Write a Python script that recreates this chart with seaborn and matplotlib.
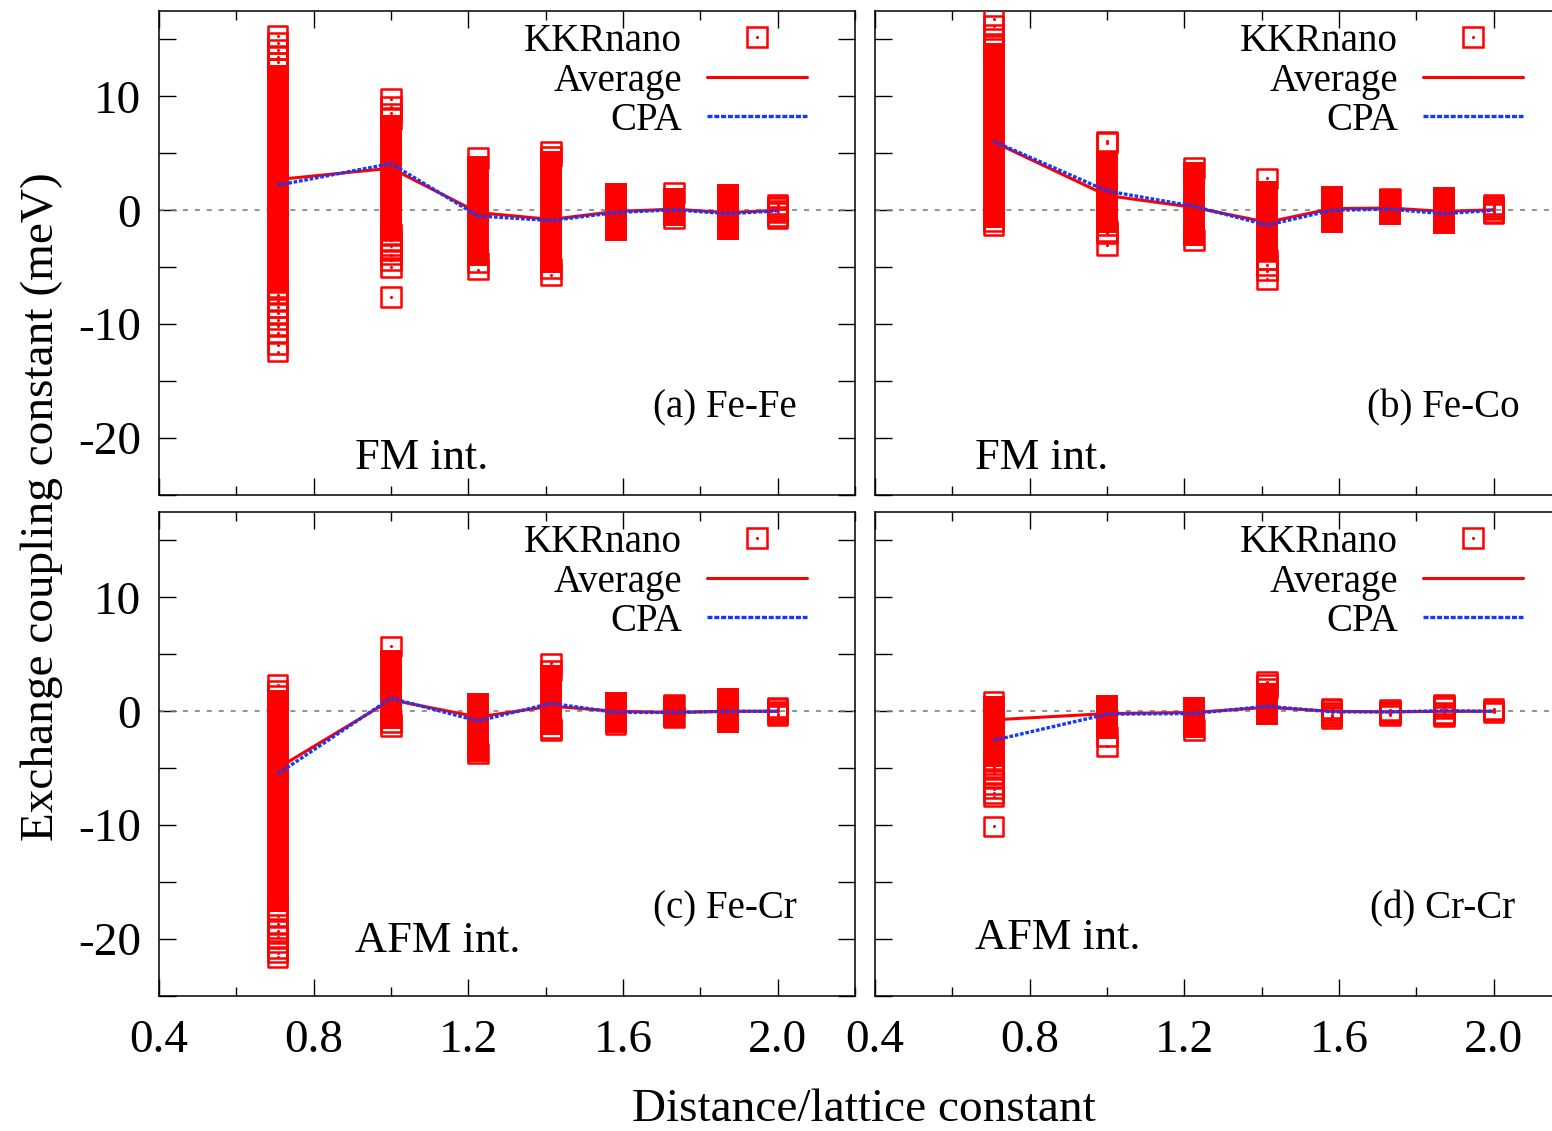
import matplotlib
matplotlib.use("Agg")
import numpy as np
import pandas as pd
import matplotlib.pyplot as plt
import seaborn as sns
from matplotlib.lines import Line2D
from matplotlib.legend_handler import HandlerTuple
from matplotlib.ticker import MultipleLocator, FuncFormatter

# Neighbour-shell distances (units of the lattice constant)
dist = [0.707, 1.000, 1.225, 1.414, 1.581, 1.732, 1.871, 2.000]

# Fe-Fe pairs: dense range of KKRnano couplings per shell, plus sparse values
fefe_core_lo = [-6.2, -1.6, -3.9, -4.5, -1.7, -0.45, -1.6, None]
fefe_core_hi = [11.8, 7.4, 3.8, 4.2, 1.4, 1.0, 1.3, None]
fefe_outer = [
    [15.3, 14.7, 14.1, 13.5, 13.0, 12.4, -6.9, -7.4, -8.0, -8.5, -9.0, -9.6,
     -10.2, -10.8, -11.8, -12.4],
    [9.8, 9.1, 8.5, 8.0, -2.1, -2.6, -3.1, -3.5, -3.9, -4.4, -5.0, -7.6],
    [4.6, -4.6, -5.2],
    [5.1, 4.7, -5.1, -5.7],
    [],
    [1.5, -0.7],
    [],
    [0.5, 0.35, 0.2, 0.0, -0.2, -0.55, -0.7],
]
fefe_avg = [2.7, 3.7, -0.2, -0.8, -0.1, 0.1, -0.2, 0.0]
fefe_cpa = [2.2, 4.1, -0.5, -0.9, -0.2, 0.05, -0.3, -0.05]

# Fe-Co pairs
feco_core_lo = [-0.6, -1.0, -2.2, -3.6, -1.0, -0.35, -1.15, None]
feco_core_hi = [13.7, 4.2, 3.3, 1.6, 1.2, 0.9, 1.05, None]
feco_outer = [
    [16.8, 16.2, 15.4, 14.6, 14.2, -1.0, -1.3],
    [6.05, 5.9, -1.8, -2.0, -3.05],
    [3.7, -2.6],
    [2.8, -4.3, -4.8, -5.3, -6.05],
    [],
    [1.05],
    [],
    [0.5, 0.35, 0.2, 0.05, -0.15, -0.3],
]
feco_avg = [6.0, 1.3, 0.25, -1.05, 0.15, 0.2, -0.1, 0.05]
feco_cpa = [6.05, 1.7, 0.35, -1.3, 0.0, 0.1, -0.3, 0.0]

# Fe-Cr pairs
fecr_core_lo = [-16.7, -0.6, -3.5, -1.15, -0.9, -0.4, -0.9, None]
fecr_core_hi = [0.9, 4.4, 0.6, 3.1, 0.7, 0.4, 1.05, None]
fecr_outer = [
    [2.3, 1.8, 1.4, -17.4, -18.0, -18.7, -19.3, -19.8, -20.3, -20.8, -21.2, -21.6],
    [5.7, -1.0, -1.3],
    [-3.7],
    [4.2, 3.6, -1.5, -1.7],
    [-1.15],
    [0.55, -0.55],
    [],
    [0.35, 0.2, 0.0, -0.2, -0.35],
]
fecr_avg = [-5.0, 1.0, -0.5, 0.45, 0.0, -0.1, 0.0, 0.0]
fecr_cpa = [-5.5, 1.15, -0.85, 0.7, -0.1, -0.1, 0.0, 0.0]

# Cr-Cr pairs
crcr_core_lo = [-3.9, -1.5, -1.4, -0.25, None, None, None, None]
crcr_core_hi = [0.35, 0.45, 0.25, 1.5, None, None, None, None]
crcr_outer = [
    [0.8, -4.4, -4.9, -5.4, -5.9, -6.4, -6.8, -7.2, -7.5, -10.1],
    [-2.2, -3.05],
    [-1.65],
    [2.6, 2.3, 2.0],
    [0.25, 0.1, -0.1, -0.3, -0.45, -0.6],
    [0.1, 0.0, -0.1, -0.2, -0.35],
    [0.6, 0.45, 0.3, -0.15, -0.3, -0.45],
    [0.2, 0.05, -0.1],
]
crcr_avg = [-0.75, -0.2, -0.1, 0.35, 0.0, -0.05, 0.0, 0.0]
crcr_cpa = [-2.55, -0.25, -0.2, 0.45, -0.05, -0.05, 0.05, 0.0]

panel_tags = ["(a) Fe-Fe", "(b) Fe-Co", "(c) Fe-Cr", "(d) Cr-Cr"]
panel_kinds = ["FM int.", "FM int.", "AFM int.", "AFM int."]
legend_labels = ["KKRnano", "Average", "CPA"]

RED = "#ff0000"
BLUE = "#1438ff"
MS = 14.0      # square marker side (pt)
MEW = 1.8      # marker edge width (pt)

sns.set_theme(style="ticks")
plt.rcParams.update({
    "font.family": ["Liberation Serif", "DejaVu Serif"],
    "axes.unicode_minus": False,
    "lines.scale_dashes": False,
    "axes.edgecolor": "black",
    "axes.linewidth": 1.1,
    "xtick.color": "black",
    "ytick.color": "black",
    "text.color": "black",
    "xtick.direction": "in",
    "ytick.direction": "in",
    "xtick.top": True,
    "ytick.right": True,
})

W, H = 1552, 1131
fig = plt.figure(figsize=(W / 100, H / 100), dpi=100)


def box(l, t, r, b):
    return [l / W, 1 - b / H, (r - l) / W, (b - t) / H]


def draw_panel(ax, core_lo, core_hi, outer, avg, cpa, tag, kind,
               show_x, show_y, tag_y, kind_xy):
    ax.axhline(0, color="#808080", lw=1.2, ls=(0, (3.6, 5.0)), zorder=1)

    # dense part of each shell: a solid stack of overlapping squares
    for x, lo, hi in zip(dist, core_lo, core_hi):
        if lo is None:
            continue
        ax.plot([x, x], [lo, hi], color=RED, lw=MS + MEW,
                solid_capstyle="projecting", zorder=2)

    pts = pd.DataFrame(
        [(x, v) for x, vals in zip(dist, outer) for v in vals],
        columns=["dist", "J"])
    sns.scatterplot(data=pts, x="dist", y="J", marker="s", s=MS ** 2,
                    color=RED, facecolor="none", edgecolor=RED,
                    linewidth=MEW, legend=False, ax=ax, zorder=3)
    sns.scatterplot(data=pts, x="dist", y="J", marker="o", s=2.2 ** 2,
                    color=RED, linewidth=0, legend=False, ax=ax, zorder=3)

    sns.lineplot(x=dist, y=avg, color=RED, lw=2.2, sort=False,
                 errorbar=None, legend=False, ax=ax, zorder=4)
    sns.lineplot(x=dist, y=cpa, color=BLUE, lw=2.4, sort=False,
                 linestyle=(0, (2.6, 1.3)), errorbar=None, legend=False,
                 ax=ax, zorder=5)

    ax.set_xlim(0.4, 2.2)
    ax.set_ylim(-25, 17.5)
    ax.xaxis.set_major_locator(MultipleLocator(0.4))
    ax.xaxis.set_minor_locator(MultipleLocator(0.2))
    ax.xaxis.set_major_formatter(FuncFormatter(lambda v, p: f"{v:.1f}"))
    ax.yaxis.set_major_locator(MultipleLocator(5))
    ax.yaxis.set_major_formatter(FuncFormatter(
        lambda v, p: str(int(round(v))) if int(round(v)) % 10 == 0 else ""))
    ax.tick_params(axis="x", which="major", length=12, width=1.0, pad=17,
                   labelsize=34, labelbottom=show_x)
    ax.tick_params(axis="x", which="minor", length=6.5, width=1.0)
    ax.tick_params(axis="y", which="major", length=12, width=1.0, pad=13,
                   labelsize=34, labelleft=show_y)
    ax.set_xlabel("")
    ax.set_ylabel("")

    h_k = (Line2D([], [], ls="none", marker="s", ms=MS, mfc="none",
                  mec=RED, mew=MEW),
           Line2D([], [], ls="none", marker="o", ms=2.2, mfc=RED, mec="none"))
    h_a = Line2D([], [], color=RED, lw=2.2)
    h_c = Line2D([], [], color=BLUE, lw=2.4, ls=(0, (3.6, 1.3)))
    ax.legend([h_k, h_a, h_c], legend_labels,
              handler_map={tuple: HandlerTuple(ndivide=1)},
              loc="upper right", bbox_to_anchor=(0.931, 0.9752),
              borderpad=0, borderaxespad=0, frameon=False, markerfirst=False,
              handlelength=2.57, handletextpad=0.64, labelspacing=0.065,
              fontsize=28)

    ax.text(tag_y[0], tag_y[1], tag, transform=ax.transAxes, ha="right",
            va="center", fontsize=28)
    ax.text(kind_xy[0], kind_xy[1], kind, transform=ax.transAxes, ha="left",
            va="center", fontsize=32)


ax_a = fig.add_axes(box(159, 11, 855, 495))
ax_b = fig.add_axes(box(875, 11, 1571, 495))
ax_c = fig.add_axes(box(159, 512, 855, 996))
ax_d = fig.add_axes(box(875, 512, 1571, 996))

draw_panel(ax_a, fefe_core_lo, fefe_core_hi, fefe_outer, fefe_avg, fefe_cpa,
           panel_tags[0], panel_kinds[0], False, True,
           (0.9167, 0.180), (0.2816, 0.0764))
draw_panel(ax_b, feco_core_lo, feco_core_hi, feco_outer, feco_avg, feco_cpa,
           panel_tags[1], panel_kinds[1], False, False,
           (0.9267, 0.180), (0.1437, 0.0764))
draw_panel(ax_c, fecr_core_lo, fecr_core_hi, fecr_outer, fecr_avg, fecr_cpa,
           panel_tags[2], panel_kinds[2], True, True,
           (0.9167, 0.180), (0.2816, 0.1137))
draw_panel(ax_d, crcr_core_lo, crcr_core_hi, crcr_outer, crcr_avg, crcr_cpa,
           panel_tags[3], panel_kinds[3], True, False,
           (0.9195, 0.180), (0.1437, 0.120))

fig.text(42 / W, 1 - 507 / H, "Exchange coupling constant (meV)",
         rotation=90, ha="center", va="center", fontsize=34)
fig.text(864 / W, 1 - 1121 / H, "Distance/lattice constant",
         ha="center", va="baseline", fontsize=34)

fig.savefig("out.png", dpi=100)
